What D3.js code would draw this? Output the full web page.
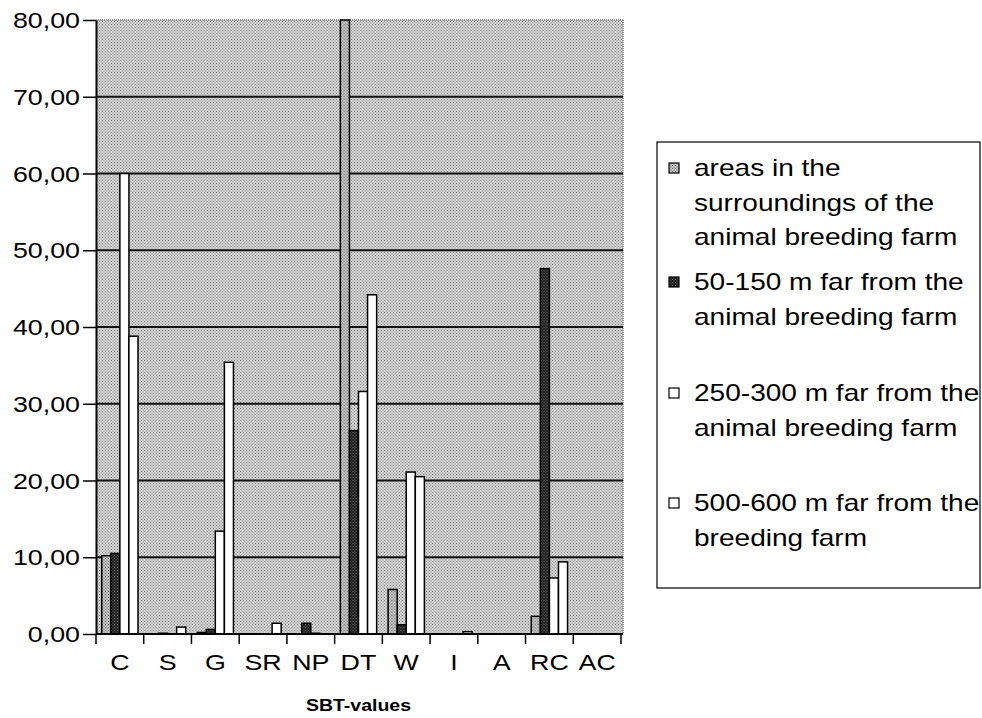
<!DOCTYPE html>
<html>
<head>
<meta charset="utf-8">
<script src="https://cdn.jsdelivr.net/npm/d3@7"></script>
<style>
  html, body { margin: 0; padding: 0; background: #fff; }
  svg { display: block; font-family: "Liberation Sans", Arial, sans-serif; }
</style>
</head>
<body>
<div id="chart"></div>
<script>
// SBT values per area
const categories = ['C', 'S', 'G', 'SR', 'NP', 'DT', 'W', 'I', 'A', 'RC', 'AC'];
const surroundings = [10.2, 0, 0.2, 0, 0, 80, 5.8, 0, 0, 2.3, 0];
const far50to150 = [10.5, 0.1, 0.6, 0, 1.4, 26.5, 1.2, 0, 0, 47.6, 0];
const far250to300 = [60, 0, 13.4, 0, 0.1, 31.6, 21.1, 0, 0, 7.3, 0];
const far500to600 = [38.8, 0.9, 35.4, 1.4, 0, 44.2, 20.5, 0.3, 0, 9.4, 0];
const yTicks = [0, 10, 20, 30, 40, 50, 60, 70, 80];
const seriesNames = ['surroundings', 'far50to150', 'far250to300', 'far500to600'];
const legendLabels = [
  ['areas in the', 'surroundings of the', 'animal breeding farm'],
  ['50-150 m far from the', 'animal breeding farm'],
  ['250-300 m far from the', 'animal breeding farm'],
  ['500-600 m far from the', 'breeding farm']
];

const width = 982;
const height = 718;
const stretch = 1.22; // the scan is wider than it is tall

const margin = { top: 20, left: 96, bottomY: 634, right: 621 };

const svg = d3.select('#chart')
  .append('svg')
  .attr('width', width)
  .attr('height', height);

// Stipple textures, like the printed greys.
const defs = svg.append('defs');
const addPattern = (id, base, dot) => {
  const p = defs.append('pattern')
    .attr('id', id)
    .attr('width', 3)
    .attr('height', 3)
    .attr('patternUnits', 'userSpaceOnUse');
  p.append('rect').attr('width', 3).attr('height', 3).attr('fill', base);
  p.append('rect').attr('x', 0).attr('y', 0).attr('width', 1).attr('height', 1).attr('fill', dot);
  p.append('rect').attr('x', 1.5).attr('y', 1.5).attr('width', 1).attr('height', 1).attr('fill', dot);
};
addPattern('bg', '#d2d2d2', '#8c8c8c');
addPattern('grayBar', '#c4c4c4', '#6a6a6a');
addPattern('blackBar', '#1e1e1e', '#6e6e6e');

const fills = ['url(#grayBar)', 'url(#blackBar)', '#ffffff', '#ffffff'];
const values = { surroundings, far50to150, far250to300, far500to600 };

const x0 = d3.scaleBand()
  .domain(categories)
  .range([margin.left, margin.right])
  .padding(0);

const x1 = d3.scaleBand()
  .domain(seriesNames)
  .range([x0.bandwidth() * 0.12, x0.bandwidth() * 0.88])
  .padding(0);

const y = d3.scaleLinear()
  .domain([0, 80])
  .range([margin.bottomY, margin.top]);

// Plot background
svg.append('rect')
  .attr('x', margin.left)
  .attr('y', margin.top)
  .attr('width', margin.right + 2 - margin.left)
  .attr('height', margin.bottomY - margin.top)
  .attr('fill', 'url(#bg)');

svg.append('line')
  .attr('x1', margin.left).attr('x2', margin.right + 2)
  .attr('y1', margin.top).attr('y2', margin.top)
  .attr('stroke', '#777').attr('stroke-width', 1.5).attr('stroke-dasharray', '1,1');
svg.append('line')
  .attr('x1', margin.right + 2).attr('x2', margin.right + 2)
  .attr('y1', margin.top).attr('y2', margin.bottomY)
  .attr('stroke', '#777').attr('stroke-width', 1.5).attr('stroke-dasharray', '1,1');

// Grid lines
svg.append('g')
  .selectAll('line')
  .data(yTicks.filter(t => t > 0 && t < 80))
  .join('line')
  .attr('x1', margin.left)
  .attr('x2', margin.right + 2)
  .attr('y1', d => y(d))
  .attr('y2', d => y(d))
  .attr('stroke', '#111')
  .attr('stroke-width', 2);

// Bars
const group = svg.append('g')
  .selectAll('g')
  .data(categories)
  .join('g')
  .attr('transform', d => `translate(${x0(d)},0)`);

group.selectAll('rect')
  .data((d, i) => seriesNames.map((s, j) => ({ s, j, v: values[s][i] })))
  .join('rect')
  .filter(d => d.v > 0)
  .attr('x', d => x1(d.s))
  .attr('y', d => y(d.v))
  .attr('width', x1.bandwidth())
  .attr('height', d => y(0) - y(d.v))
  .attr('fill', d => fills[d.j])
  .attr('stroke', '#000')
  .attr('stroke-width', 1.5);

// Y axis
const yAxis = svg.append('g')
  .attr('transform', `translate(${margin.left},0)`)
  .call(d3.axisLeft(y).tickValues(yTicks).tickSize(13).tickSizeOuter(0)
    .tickFormat(d => d3.format('.2f')(d).replace('.', ',')));
yAxis.select('.domain').attr('stroke', '#000').attr('stroke-width', 2);
yAxis.selectAll('.tick line').attr('stroke', '#000').attr('stroke-width', 1.5);
yAxis.selectAll('.tick text')
  .attr('x', null).attr('dy', null)
  .attr('text-anchor', 'end')
  .attr('dominant-baseline', 'central')
  .attr('transform', `translate(-16,0) scale(${stretch},1)`)
  .attr('fill', '#000')
  .style('font-size', '22px')
  .style('font-family', '"Liberation Sans", Arial, sans-serif');

// X axis: ticks on the category boundaries
svg.append('line')
  .attr('x1', margin.left).attr('x2', margin.right + 2)
  .attr('y1', margin.bottomY).attr('y2', margin.bottomY)
  .attr('stroke', '#000').attr('stroke-width', 2);

const boundaries = categories.map(c => x0(c)).concat([margin.right]);
svg.append('g')
  .selectAll('line')
  .data(boundaries)
  .join('line')
  .attr('x1', d => d).attr('x2', d => d)
  .attr('y1', margin.bottomY).attr('y2', margin.bottomY + 10)
  .attr('stroke', '#000').attr('stroke-width', 1.5);

svg.append('g')
  .selectAll('text')
  .data(categories)
  .join('text')
  .attr('transform', d => `translate(${x0(d) + x0.bandwidth() / 2},${margin.bottomY + 28}) scale(${stretch},1)`)
  .attr('text-anchor', 'middle')
  .attr('dominant-baseline', 'central')
  .style('font-size', '22px')
  .text(d => d);

svg.append('text')
  .attr('transform', `translate(${(margin.left + margin.right) / 2},706) scale(${stretch},1)`)
  .attr('text-anchor', 'middle')
  .attr('dominant-baseline', 'central')
  .style('font-size', '16px')
  .style('font-weight', 'bold')
  .text('SBT-values');

// Legend
const legend = svg.append('g');
legend.append('rect')
  .attr('x', 657).attr('y', 142)
  .attr('width', 323).attr('height', 446)
  .attr('fill', '#fff')
  .attr('stroke', '#000')
  .attr('stroke-width', 1.2);

const legendTop = [168, 282, 393, 503];
const lineHeight = 34.5;

legendLabels.forEach((lines, i) => {
  legend.append('rect')
    .attr('x', 669)
    .attr('y', legendTop[i] - 5)
    .attr('width', 10)
    .attr('height', 10)
    .attr('fill', fills[i])
    .attr('stroke', '#000')
    .attr('stroke-width', 1.2);

  lines.forEach((t, k) => {
    legend.append('text')
      .attr('transform', `translate(694,${legendTop[i] + k * lineHeight}) scale(${stretch},1)`)
      .attr('dominant-baseline', 'central')
      .style('font-size', '23px')
      .text(t);
  });
});
</script>
</body>
</html>
